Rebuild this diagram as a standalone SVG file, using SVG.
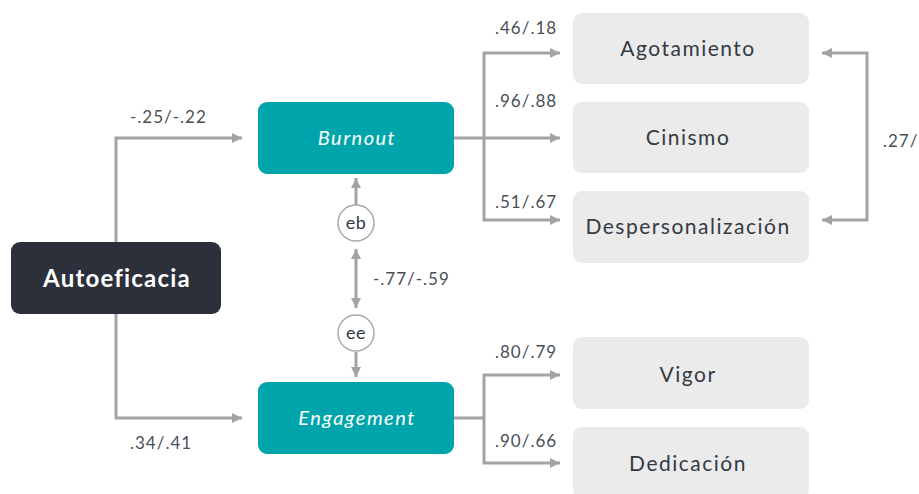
<svg xmlns="http://www.w3.org/2000/svg" width="919" height="494" viewBox="0 0 919 494">
<defs>
<marker id="ah" viewBox="0 0 10 10" refX="10" refY="5" markerWidth="10" markerHeight="10" markerUnits="userSpaceOnUse" orient="auto-start-reverse">
<path d="M0,0 L10,5 L0,10 z" fill="#a3a3a3"/>
</marker>
<style>
.ln{fill:none;stroke:#a3a3a3;stroke-width:3}
.lbl{font-family:Lato,"Liberation Sans",sans-serif;font-size:17px;letter-spacing:1px;fill:#4a4f58}
.teal{fill:#00a5ab}
.grey{fill:#ebebeb}
.tt{font-family:Lato,"Liberation Sans",sans-serif;font-size:20px;letter-spacing:1.5px;fill:#ffffff;font-style:italic;text-anchor:middle}
.gt{font-family:Lato,"Liberation Sans",sans-serif;font-size:21px;letter-spacing:1.5px;fill:#333a44;text-anchor:middle}
.ct{font-family:Lato,"Liberation Sans",sans-serif;font-size:18px;letter-spacing:0.5px;fill:#333a44;text-anchor:middle}
.circ{fill:#ffffff;stroke:#aaaaaa;stroke-width:1.5}
</style>
</defs>
<rect width="919" height="494" fill="#ffffff"/>
<g id="connectors">
<path class="ln" d="M116,242 V138 H242" marker-end="url(#ah)"/>
<path class="ln" d="M116,314 V418 H242" marker-end="url(#ah)"/>
<path class="ln" d="M356,205 V178" marker-end="url(#ah)"/>
<path class="ln" d="M356,249 V308" marker-start="url(#ah)" marker-end="url(#ah)"/>
<path class="ln" d="M356,352 V377" marker-end="url(#ah)"/>
<path class="ln" d="M454,138 H560" marker-end="url(#ah)"/>
<path class="ln" d="M484,138 V53 H560" marker-end="url(#ah)"/>
<path class="ln" d="M484,138 V220 H560" marker-end="url(#ah)"/>
<path class="ln" d="M454,418 H484"/>
<path class="ln" d="M484,418 V375 H560" marker-end="url(#ah)"/>
<path class="ln" d="M484,418 V463 H560" marker-end="url(#ah)"/>
<path class="ln" d="M822,53 H867 V220 H822" marker-start="url(#ah)" marker-end="url(#ah)"/>
<text class="lbl" x="130" y="123">-.25/-.22</text>
<text class="lbl" x="130" y="449">.34/.41</text>
<text class="lbl" x="373" y="285">-.77/-.59</text>
<text class="lbl" x="495" y="34">.46/.18</text>
<text class="lbl" x="495" y="107">.96/.88</text>
<text class="lbl" x="495" y="208">.51/.67</text>
<text class="lbl" x="495" y="358">.80/.79</text>
<text class="lbl" x="495" y="447">.90/.66</text>
<text class="lbl" x="883" y="147">.27/</text>
</g>
<g id="autoeficacia">
<rect x="11" y="242" width="210" height="72" rx="9" fill="#2b303b"/>
<text x="117" y="287" font-family="Lato,'Liberation Sans',sans-serif" font-size="24" font-weight="bold" letter-spacing="1.2" fill="#ffffff" text-anchor="middle">Autoeficacia</text>
</g>
<g id="burnout">
<rect class="teal" x="258" y="102" width="196" height="72" rx="9"/>
<text class="tt" x="357" y="145">Burnout</text>
</g>
<g id="engagement">
<rect class="teal" x="258" y="382" width="196" height="72" rx="9"/>
<text class="tt" x="357" y="425">Engagement</text>
</g>
<g id="eb">
<circle class="circ" cx="356" cy="223" r="18"/>
<text class="ct" x="356" y="229">eb</text>
</g>
<g id="ee">
<circle class="circ" cx="356" cy="333" r="18"/>
<text class="ct" x="356" y="339">ee</text>
</g>
<g id="agotamiento">
<rect class="grey" x="573" y="13" width="236" height="71" rx="9"/>
<text class="gt" x="688" y="56">Agotamiento</text>
</g>
<g id="cinismo">
<rect class="grey" x="573" y="102" width="236" height="71" rx="9"/>
<text class="gt" x="688" y="145">Cinismo</text>
</g>
<g id="despersonalizacion">
<rect class="grey" x="573" y="191" width="236" height="72" rx="9"/>
<text class="gt" x="688" y="234">Despersonalización</text>
</g>
<g id="vigor">
<rect class="grey" x="573" y="337" width="236" height="72" rx="9"/>
<text class="gt" x="688" y="382">Vigor</text>
</g>
<g id="dedicacion">
<rect class="grey" x="573" y="427" width="236" height="72" rx="9"/>
<text class="gt" x="688" y="471">Dedicación</text>
</g>
</svg>
